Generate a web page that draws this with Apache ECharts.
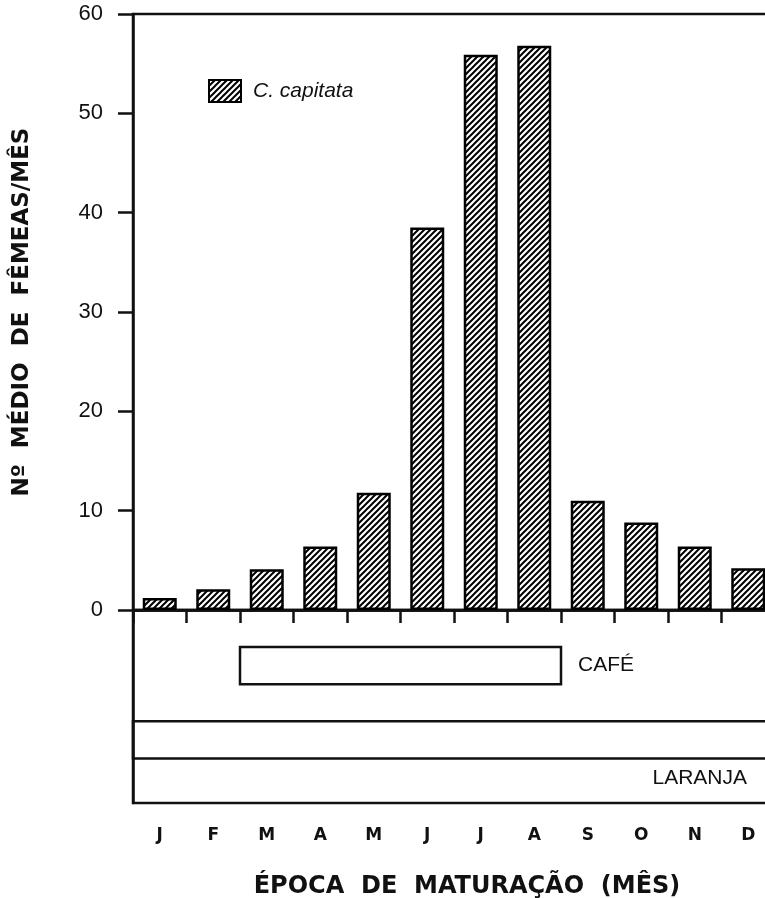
<!DOCTYPE html>
<html>
<head>
<meta charset="utf-8">
<script src="https://cdn.jsdelivr.net/npm/echarts@6/dist/echarts.min.js"></script>
<style>html,body{margin:0;padding:0;background:#fff;}#c{width:765px;height:898px;}</style>
</head>
<body>
<div id="c"></div>
<script>
// ---- data ----
const months = ['J','F','M','A','M','J','J','A','S','O','N','D'];
const femalesPerMonth = [1.2, 2.1, 4.1, 6.4, 11.8, 38.5, 55.9, 56.8, 11.0, 8.8, 6.4, 4.2];
const seriesName = 'C. capitata';
const yTicks = [0, 10, 20, 30, 40, 50, 60];
const cropNames = ['CAFÉ', 'LARANJA'];
const cropStart = [2, 0];   // month index where ripening starts
const cropEnd = [8, 12];    // month index (exclusive) where it ends
const cropRow = [0, 1];

function makeHatch() {
  const n = 6;
  const c = document.createElement('canvas');
  c.width = n; c.height = n;
  const g = c.getContext('2d');
  g.fillStyle = '#fff'; g.fillRect(0, 0, n, n);
  g.strokeStyle = '#000'; g.lineWidth = 2;
  g.beginPath();
  g.moveTo(0, n); g.lineTo(n, 0);
  g.moveTo(-1, 1); g.lineTo(1, -1);
  g.moveTo(n - 1, n + 1); g.lineTo(n + 1, n - 1);
  g.stroke();
  return c;
}
const hatch = { image: makeHatch(), repeat: 'repeat' };

const INK = '#111';
const LW = 2.5;
const sans = '"Liberation Sans", Arial, Helvetica, sans-serif';
const bold = '"DejaVu Sans", sans-serif';

const chart = echarts.init(document.getElementById('c'), null, { renderer: 'canvas' });

const cropData = cropNames.map((n, i) => [cropStart[i], cropEnd[i], cropRow[i]]);

chart.setOption({
  animation: false,
  backgroundColor: '#fff',
  legend: {
    data: [seriesName],
    left: 208, top: 79, padding: 0,
    itemWidth: 32, itemHeight: 22,
    icon: 'rect',
    itemStyle: { borderColor: '#000', borderWidth: 2 },
    textStyle: { fontFamily: sans, fontStyle: 'italic', fontSize: 21, color: INK, padding: [0, 0, 0, 7] }
  },
  grid: [
    { left: 133, top: 14, width: 642, height: 596, outerBoundsMode: 'none', containLabel: false,
      show: true, borderColor: INK, borderWidth: LW, backgroundColor: 'transparent' },
    { left: 133, top: 610, width: 642, height: 193, outerBoundsMode: 'none', containLabel: false,
      show: true, borderColor: INK, borderWidth: LW, backgroundColor: 'transparent' }
  ],
  xAxis: [
    { gridIndex: 0, type: 'category', data: months,
      axisLine: { lineStyle: { color: INK, width: LW } },
      axisTick: { show: true, length: 13, lineStyle: { color: INK, width: LW } },
      axisLabel: { show: false } },
    { gridIndex: 1, type: 'category', data: months, position: 'bottom',
      axisLine: { lineStyle: { color: INK, width: LW } },
      axisTick: { show: true, length: 13, lineStyle: { color: INK, width: LW } },
      axisLabel: { fontFamily: bold, fontWeight: 'bold', fontSize: 17, color: INK, margin: 24 },
      name: 'ÉPOCA  DE  MATURAÇÃO  (MÊS)', nameLocation: 'middle', nameGap: 72,
      nameTextStyle: { fontFamily: bold, fontWeight: 'bold', fontSize: 24, color: INK, padding: [0, 0, 0, 26] } },
    { gridIndex: 1, type: 'value', min: 0, max: 12, show: false }
  ],
  yAxis: [
    { gridIndex: 0, type: 'value', min: yTicks[0], max: yTicks[yTicks.length - 1], interval: 10,
      axisLine: { show: true, lineStyle: { color: INK, width: LW } },
      axisTick: { show: true, length: 15, lineStyle: { color: INK, width: LW } },
      axisLabel: { fontFamily: sans, fontSize: 22, color: INK, margin: 30 },
      splitLine: { show: false },
      name: 'Nº  MÉDIO  DE  FÊMEAS/MÊS', nameLocation: 'middle', nameGap: 99, nameRotate: 90,
      nameTextStyle: { fontFamily: bold, fontWeight: 'bold', fontSize: 23, color: INK } },
    { gridIndex: 1, type: 'value', min: 0, max: 2.6, inverse: true,
      axisLine: { show: true, lineStyle: { color: INK, width: LW } },
      axisTick: { show: false }, axisLabel: { show: false }, splitLine: { show: false } }
  ],
  series: [
    { name: seriesName, type: 'bar', xAxisIndex: 0, yAxisIndex: 0,
      data: femalesPerMonth, barWidth: 34,
      itemStyle: { color: hatch, borderColor: '#000', borderWidth: 2.5 } },
    { type: 'custom', xAxisIndex: 2, yAxisIndex: 1, data: cropData,
      renderItem: function (params, api) {
        const s = api.value(0), e = api.value(1), row = api.value(2);
        const yc = row + 0.75;
        const p0 = api.coord([s, yc]);
        const p1 = api.coord([e, yc]);
        const h = api.size([0, 0.5])[1];
        const full = (e - s) >= 12;
        const name = cropNames[params.dataIndex];
        return {
          type: 'group',
          children: [
            { type: 'rect',
              shape: { x: p0[0], y: p0[1] - h / 2, width: p1[0] - p0[0], height: h },
              style: { fill: full ? 'none' : '#fff', stroke: INK, lineWidth: LW } },
            { type: 'text',
              style: { text: name,
                x: full ? p1[0] - 28 : p1[0] + 17,
                y: full ? p0[1] + h / 2 + 20 : p0[1],
                align: full ? 'right' : 'left', verticalAlign: 'middle',
                fontFamily: sans, fontSize: 21, fill: INK } }
          ]
        };
      } }
  ]
});
</script>
</body>
</html>
